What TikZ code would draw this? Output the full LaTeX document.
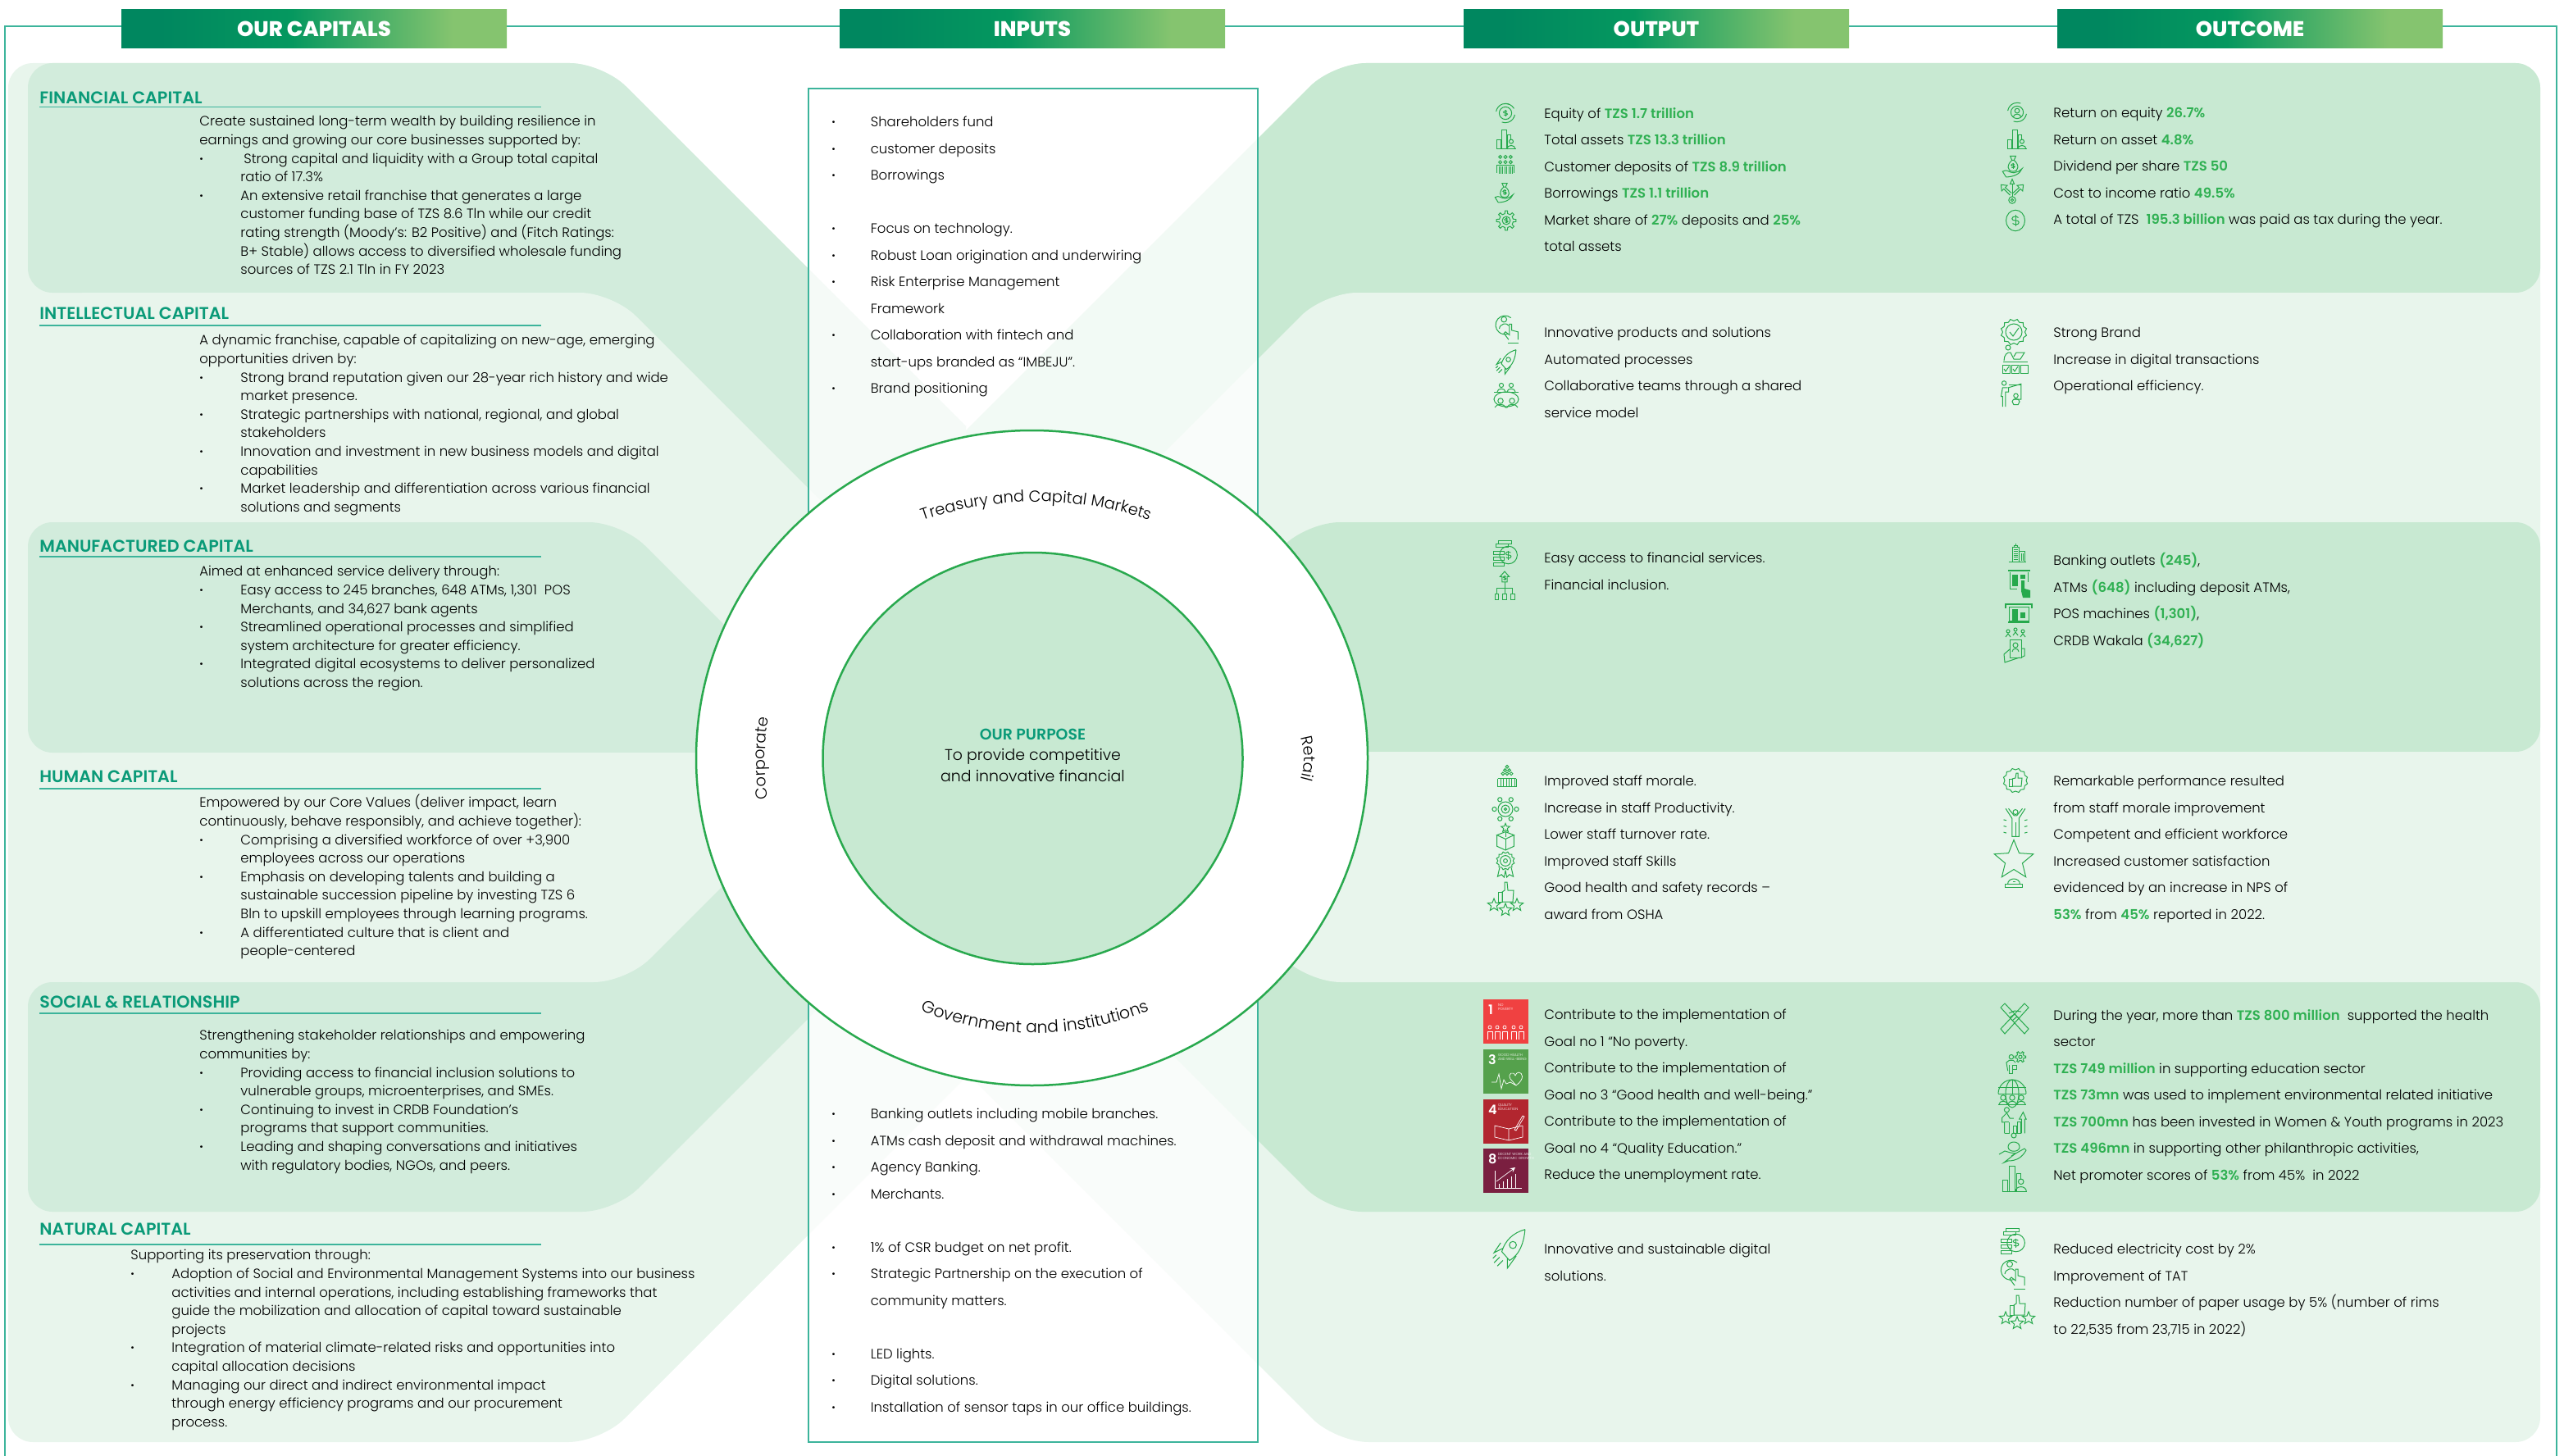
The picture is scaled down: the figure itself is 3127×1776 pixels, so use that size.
\documentclass[tikz,border=0pt]{standalone}
\usepackage{fontspec}
\usetikzlibrary{positioning,shapes.geometric,decorations.text}
\setmainfont{Poppins}[UprightFont=* Light,BoldFont=* SemiBold]
\newfontfamily\heavyfont{Poppins ExtraBold}

\definecolor{frameteal}{HTML}{3CB49B}
\definecolor{titleteal}{HTML}{0A9A78}
\definecolor{bandlight}{HTML}{E8F5EC}
\definecolor{bandleft}{HTML}{D2ECDC}
\definecolor{bandright}{HTML}{C8E9D2}
\definecolor{ringgreen}{HTML}{29A94E}
\definecolor{amtgreen}{HTML}{2FB052}
\definecolor{icongreen}{HTML}{26A94C}
\definecolor{hdA}{HTML}{00875F}
\definecolor{hdB}{HTML}{05985F}
\definecolor{hdC}{HTML}{85C46F}
\pgfdeclarehorizontalshading{capband}{100bp}{color(0bp)=(hdA); color(30bp)=(hdA); color(47bp)=(hdB); color(68bp)=(hdC); color(100bp)=(hdC)}

\newcommand{\amt}[1]{{\bfseries\color{amtgreen}#1}}
\newcommand{\bl}{\makebox[25pt][l]{\bfseries\textperiodcentered}}
\newcommand{\ct}{\hspace*{25pt}}
\newcommand{\ib}{\makebox[23.7pt][l]{\bfseries\textperiodcentered}}
\newcommand{\ic}{\hspace*{23.7pt}}

\tikzset{
  rs/.style={rounded corners=15pt}, rb/.style={rounded corners=20pt}, sc/.style={sharp corners},
  istar/.pic={\draw (-90:5) \foreach \a in {1,...,9} { -- ({-90+\a*36}:{mod(\a,2)==1?2.2:5}) } -- cycle;},
  ismark/.pic={\draw (2.5,-2.5) .. controls (1,-4) and (-3,-4) .. (-3,-1.5) .. controls (-3,1) and (3,-1) .. (3,1.5) .. controls (3,4) and (-1,4) .. (-2.5,2.5);
    \draw (0,-5) -- (0,5);},
  icoin/.pic={\draw (0,0) circle (8); \pic[scale=.8] {ismark};
    \draw (-12,-2) arc[start angle=190,end angle=290,radius=12.5]; \draw (12,2) arc[start angle=10,end angle=110,radius=12.5];
    \draw (-2,-12) arc[start angle=260,end angle=330,radius=12.5];},
  ieqperson/.pic={\draw (0,0) circle (8); \draw (0,-2) circle (3); \draw (-5,6) .. controls (-4,1) and (4,1) .. (5,6);
    \draw (-12,-2) arc[start angle=190,end angle=290,radius=12.5]; \draw (12,2) arc[start angle=10,end angle=110,radius=12.5];},
  ibars/.pic={\draw (-14,14) -- (14,14); \draw (-13,14) -- (-13,1) -- (-8,1) -- (-8,14); \draw (-6,14) -- (-6,-14) -- (0,-14) -- (0,14);
    \draw (2,14) -- (2,-6) -- (7,-6) -- (7,1); \draw (7,3) circle (3); \draw (1,14) .. controls (1,7) and (13,7) .. (13,14);},
  icrowd/.pic={\foreach \p in {-8,0,8} {\draw (\p,-12) circle (2.4); \draw (\p,-4) circle (2.4);}
    \draw (-13,12) -- (-13,1) -- (13,1) -- (13,12); \foreach \p in {-10,-7,-4,-1,2,5,8,11} \draw (\p,3) -- (\p,14);},
  ibag/.pic={\draw (-4,-16) -- (4,-16) -- (1.5,-10) -- (-1.5,-10) -- cycle;
    \draw (-1.5,-10) .. controls (-9,-4) and (-9,6) .. (0,6) .. controls (9,6) and (9,-4) .. (1.5,-10); \pic[scale=.7] at (0,-2) {ismark};
    \draw (-15,6) .. controls (-8,2) and (-6,8) .. (1,8) -- (8,6) -- (13,2) .. controls (10,10) and (0,14) .. (-10,14) -- cycle;},
  igear/.pic={\foreach \a in {0,45,...,315} \draw (\a-11:10.5) -- (\a-7:14.5) -- (\a+7:14.5) -- (\a+11:10.5) -- (\a+34:10.5);
    \draw (0,0) circle (6); \pic[scale=.7] {ismark};},
  iclick/.pic={\draw (5,-14) arc[start angle=-50,end angle=-290,radius=12]; \draw (-4,-12) circle (3.5); \draw (-10,0) .. controls (-9,-7) and (0,-8) .. (2,-4);
    \draw (2,14) -- (-4,6) -- (-2,4) -- (3,8) -- (3,-6) -- (6,-6) -- (6,2) -- (14,4) -- (14,14); \draw (1,18) -- (15,18);},
  irocket/.pic={\draw (14,-18) .. controls (3,-15) and (-4,-8) .. (-7,2) -- (0,10) .. controls (9,5) and (13,-6) .. (14,-18);
    \draw (3,-4) circle (3.2); \draw (-6,-1) -- (-14,3) -- (-8,-6); \draw (-2,8) -- (-2,17) -- (6,6);
    \draw (-9,7) -- (-14,12); \draw (-6,10) -- (-11,15); \draw (-12,5) -- (-15,8);},
  iteam/.pic={\foreach \p in {-6,6} {\draw (\p,-13) circle (2.6); \draw (\p-5,-5) .. controls (\p-5,-10) and (\p+5,-10) .. (\p+5,-5);}
    \draw (-15,-5) -- (15,-5); \draw (0,4) ellipse (15 and 9); \foreach \p in {-7,7} {\draw (\p,6) circle (3.2);}
    \draw (-14,14) .. controls (-12,9) and (-2,9) .. (-1,14) -- (1,14) .. controls (2,9) and (12,9) .. (14,14);},
  ibadge/.pic={\foreach \a in {0,30,...,330} \draw (\a:13.5) -- (\a+15:16) -- (\a+30:13.5);
    \draw (0,0) circle (10); \draw (-5,0) -- (-1,5) -- (6,-5);},
  ilaptop/.pic={\draw (-9,-16) circle (3); \draw (-14,0) .. controls (-14,-7) and (-10,-11) .. (-6,-10) -- (-2,-2) -- (6,-2) -- (11,-10) -- (1,-10) -- (-2,-5); \draw (-15,1) -- (15,1);
    \foreach \p in {-16,-5,6} \draw (\p,5) rectangle ++(9,10); \draw (-14,10) -- (-12,13) -- (-8,7); \draw (-3,10) -- (-1,13) -- (3,7);},
  ipresent/.pic={\draw (-11,-14) circle (3); \draw (-6,-8) -- (-13,-8) -- (-15,4) -- (-13,4) -- (-13,18); \draw (-9,18) -- (-9,-2) -- (-5,-2) -- (-5,-8) -- (12,-13) -- (12,8) -- (2,8);
    \draw (-5,-12) -- (12,-12); \draw (5,3) circle (3); \draw (0,11) .. controls (0,6) and (10,6) .. (10,11) -- (8,15) -- (2,15) -- cycle;},
  ibank/.pic={\draw (-7,-9) rectangle (3,13); \draw (-5,-12) rectangle (1,-9); \draw (-2,-12) -- (-2,-15); \draw (3,-3) rectangle (12,13); \draw (-13,13) -- (14,13);
    \foreach \p in {-6,-3,...,9} \draw (-5,\p) -- (1,\p); \draw (7,0) -- (7,11); \draw (9,0) -- (9,11);},
  iatm/.pic={\draw[line width=1.4pt] (-13,-16) -- (14,-16); \draw (-11,-14) -- (-11,6) -- (-2,6); \draw (11,-14) -- (11,-2); \fill (-8,-11) rectangle (-1,3); \fill (2,-11) rectangle (8,-6);
    \fill (3,-4) -- (7,-4) -- (7,6) -- (14,8) -- (14,17) -- (5,17) -- (3,9) -- cycle;},
  ipos/.pic={\draw[line width=1.2pt] (-16,-6) -- (-16,-11) -- (16,-11) -- (16,-6); \draw (-12,-8) rectangle (12,9); \fill (-8,-5) rectangle (-1,9); \fill (2,-1) rectangle (8,6); \draw[line width=1.2pt] (-13,11) -- (13,11);},
  iwakala/.pic={\foreach \p/\q in {-9/-18,0/-20,9/-18} {\draw (\p,\q) circle (2); \draw (\p-3,\q+7) -- (\p,\q+3) -- (\p+3,\q+7);}
    \draw (-7,-8) rectangle (7,14); \draw (0,-1) circle (3); \draw (-4,7) .. controls (-4,2) and (4,2) .. (4,7); \draw (-7,4) -- (-14,10) -- (-13,20) -- (5,14); \draw (7,3) -- (11,3) -- (11,12) -- (7,14);},
  ipyramid/.pic={\foreach \q/\r in {-15/1,-10/2,-5/3} \foreach \i in {1,...,\r} {\draw ({(\i-(\r+1)/2)*6},\q) circle (2.2);}
    \draw (-13,2) -- (-13,14) -- (13,14) -- (13,2); \draw (-13,2) -- (13,2); \foreach \p in {-9,-5,-1,3,7,11} \draw (\p,2) -- (\p,14);},
  igeartarget/.pic={\draw (0,0) circle (9); \draw (0,0) circle (5); \draw (0,0) circle (1.6);
    \foreach \a in {0,60,...,300} \draw (\a:13.5) circle (2.6);},
  ibox/.pic={\pic[scale=1.1] at (0,-14) {istar}; \draw (0,-9) -- (0,0); \draw (-13,-3) -- (0,3) -- (13,-3) -- (0,-8) -- cycle; \draw (-13,-3) -- (-13,14) -- (0,20) -- (13,14) -- (13,-3); \draw (0,3) -- (0,20);},
  imedal/.pic={\foreach \a in {0,30,...,330} \draw[shift={(0,-5)}] (\a:11.5) -- (\a+15:14) -- (\a+30:11.5); \draw (0,-5) circle (8); \draw (0,-5) circle (3);
    \draw (-9,6) -- (-12,19) -- (-6,16) -- (-2,20) -- (0,10) -- (2,20) -- (6,16) -- (12,19) -- (9,6);},
  ithumbs/.pic={\draw (-4,-8) -- (-1,-10) -- (-1,-20) -- (2,-20) -- (3,-10) -- (10,-10) -- (9,4) -- (-4,4) -- cycle; \draw (-9,-8) rectangle (-4,4);
    \pic[scale=1.6] at (-14,8) {istar}; \pic[scale=1.6] at (0,14) {istar}; \pic[scale=1.6] at (14,8) {istar};},
  ithumbbadge/.pic={\foreach \a in {0,30,...,330} \draw (\a:13) -- (\a+15:15) -- (\a+30:13);
    \draw (-8,-2) rectangle (-4,7); \draw (-4,-2) -- (0,-3) -- (1,-9) -- (3,-9) -- (3,-3) -- (8,-3) -- (7,7) -- (-4,7);},
  ivictory/.pic={\draw (0,-17) circle (3.5); \draw (-14,-22) -- (-5,-8) -- (-5,18) -- (5,18) -- (5,-8) -- (14,-22); \draw (-10,-22) -- (-2,-12) -- (2,-12) -- (10,-22); \draw (0,-2) -- (0,18);
    \foreach \q in {-6,3,12} {\draw (-17,\q) -- (-13,\q+1); \draw (17,\q) -- (13,\q+1);}},
  itrophy/.pic={\pic[scale=5] at (0,-14) {istar}; \draw (-10,25) .. controls (-10,13) and (10,13) .. (10,25); \draw (-14,25) -- (14,25) -- (14,30) -- (-14,30) -- cycle; \draw (-2,20) -- (2,20);},
  ishake/.pic={\draw (-17,-14) -- (-12,-19) -- (17,12) -- (12,18) -- cycle; \draw (17,-14) -- (12,-19) -- (-17,12) -- (-12,18) -- cycle;
    \draw (-7,-7) -- (0,-10) -- (8,-9); \draw (-6,-2) -- (0,-6) -- (6,0); \draw (-3,2) -- (3,-3);},
  ipersongear/.pic={\draw (-6,-8) circle (3.2); \draw (-11,12) -- (-13,0) -- (-9,-3) -- (-3,-3) -- (0,0); \draw (-9,4) -- (-9,16) -- (-4,16) -- (-4,8); \draw (-4,4) rectangle (2,10);
    \foreach \a in {0,60,...,300} \draw[shift={(7,-8)}] (\a-14:5.5) -- (\a-9:8) -- (\a+9:8) -- (\a+14:5.5) -- (\a+46:5.5); \draw (7,-8) circle (2.5);},
  iglobe/.pic={\draw (-17,3) arc[start angle=180,end angle=360,radius=17]; \draw (0,3) ellipse (8 and 17); \draw (0,-14) -- (0,3); \draw (-17,-5) -- (17,-5);
    \draw (-17,3) -- (17,3); \foreach \p in {-11,0,11} {\draw (\p,8) circle (3.2); \draw (\p-5,16) .. controls (\p-5,11) and (\p+5,11) .. (\p+5,16);} \draw (-17,16) -- (17,16);},
  iwoman/.pic={\draw (-8,-15) circle (3.2); \draw (-8,-11) -- (-14,-5) -- (-14,1) -- (-11,1) -- (-11,15); \draw (-8,-11) -- (-4,-4) -- (1,-4); \draw (-5,1) -- (-11,1); \draw (-5,1) -- (-5,15) -- (-11,15);
    \draw (1,15) rectangle (5,6); \draw (6,15) rectangle (10,1); \draw (11,15) -- (11,-3) -- (8,-3) -- (13,-12) -- (17,-3) -- (15,-3) -- (15,15);},
  icare/.pic={\draw (1,-17) circle (3); \draw (-6,-3) .. controls (-6,-11) and (8,-11) .. (8,-3) .. controls (8,4) and (-6,4) .. (-6,-3); \draw (-17,6) -- (-10,2) -- (-3,4) -- (3,5) -- (-2,8);
    \draw (3,5) -- (14,-1) -- (16,1) .. controls (11,10) and (4,14) .. (-6,14) -- (-11,16) -- cycle;},
  icoins/.pic={\draw (-9,-19) rectangle (8,-15); \draw (-13,-15) rectangle (4,-11); \draw (-9,-11) -- (-4,-11); \draw (-16,-5) rectangle (-2,-1); \draw (-16,3) rectangle (-2,7); \draw (-16,11) rectangle (-2,15);
    \draw (4,0) circle (12); \pic[scale=1.1] at (4,0) {ismark};},
  ihouse/.pic={\draw (0,-25) -- (-7,-17) -- (-4,-17) -- (-4,-9) -- (4,-9) -- (4,-17) -- (7,-17) -- cycle; \pic[scale=.6] at (0,-15) {ismark};
    \draw (0,-9) -- (0,9); \draw (-12,0) -- (12,0); \foreach \p in {-12,0,12} {\draw (\p,0) -- (\p,9); \draw (\p-3,9) rectangle (\p+3,18);}},
  iarrows/.pic={\draw (0,13) circle (5); \draw (0,13) circle (2); \draw (0,8) -- (0,-11); \draw (-3,-10) -- (0,-17) -- (3,-10) -- cycle;
    \draw (-3,6) -- (-12,-3) -- (-15,0) -- (-16,-9) -- (-7,-8) -- (-10,-5) -- (-1,3); \draw (3,6) -- (12,-3) -- (15,0) -- (16,-9) -- (7,-8) -- (10,-5) -- (1,3);},
  idollar/.pic={\draw (0,0) ellipse (13.5 and 15); \pic[scale=1.4] {ismark};}
}

\begin{document}
\begin{tikzpicture}[x=0.5pt,y=-0.5pt,
    capheader/.style={shading=capband,minimum width=235pt,minimum height=23.5pt,inner sep=0pt,text=white,font=\heavyfont\fontsize{12.9}{12.9}\selectfont},
    bodytext/.style={anchor=north west,inner sep=0pt,align=left,font=\fontsize{8.25}{11.3}\selectfont,execute at begin node=\strut},
    listtext/.style={anchor=north west,inner sep=0pt,align=left,font=\fontsize{8.25}{16.25}\selectfont,execute at begin node=\strut},
    captitle/.style={anchor=west,inner sep=0pt,text=titleteal,font=\bfseries\fontsize{10.35}{10.35}\selectfont},
    caprule/.style={draw=frameteal,line width=0.8pt},
    ringtext/.style={decorate,decoration={text along path,text align=center,text={#1}}},
    icon/.style={color=icongreen,line width=0.5pt},
    sdgtile/.style={minimum width=27.5pt,minimum height=27pt,inner sep=0pt},
    sdgnum/.style={text=white,inner sep=0pt,font=\bfseries\fontsize{8}{8}\selectfont},
    sdglabel/.style={text=white,inner sep=0pt,anchor=north west,align=left,font=\fontsize{2.2}{2.8}\selectfont}]
  \useasboundingbox (0,0) rectangle (3127,1776);

  % band shapes, left side
  \fill[bandlight] (300,77) [rb] -- (735,77) [sc] -- (1178,520) -- (1178,1314) [rb] -- (733,1759) [rs] -- (10,1759) -- (10,77) [sc] -- cycle;
  \fill[bandleft] (300,77) [rb] -- (735,77) [sc] -- (1178,520) -- (1178,788) -- (700,400) -- (700,357) [rs] -- (34,357) -- (34,77) [sc] -- cycle;
  \fill[bandlight] (300,357) [rb] -- (747,357) [sc] -- (1178,788) -- (1039,918) -- (700,680) -- (700,637) -- (100,637) -- (100,357) -- cycle;
  \fill[bandleft] (300,637) [rb] -- (758,637) [sc] -- (1039,918) [rs] -- (34,918) -- (34,637) [sc] -- cycle;
  \fill[bandleft] (300,1198) -- (700,1198) -- (700,1150) -- (1044,918) -- (1178,1050) [rb] -- (750,1478) [rs] -- (34,1478) -- (34,1198) [sc] -- cycle;
  \fill[bandlight] (300,918) -- (1044,918) [rb] -- (764,1198) [sc] -- (100,1198) -- (100,918) -- cycle;
  % band shapes, right side
  \fill[bandlight] (2500,77) [rs] -- (3098,77) -- (3098,1759) [rb] -- (1629,1759) [sc] -- (1178,1308) -- (1178,525) [rb] -- (1626,77) [sc] -- cycle;
  \fill[bandright] (2500,77) [rs] -- (3098,77) -- (3098,357) [sc] -- (1660,357) -- (1660,400) -- (1178,794) -- (1178,525) [rb] -- (1626,77) [sc] -- cycle;
  \fill[bandlight] (2500,357) -- (3098,357) -- (3098,637) -- (1660,637) -- (1660,680) -- (1314,917) -- (1178,794) [rb] -- (1615,357) [sc] -- cycle;
  \fill[bandright] (2500,637) [rs] -- (3098,637) -- (3098,917) [sc] -- (1314,917) [rb] -- (1594,637) [sc] -- cycle;
  \fill[bandright] (2500,1198) [rs] -- (3098,1198) -- (3098,1478) [rb] -- (1621,1478) [sc] -- (1178,1035) -- (1314,917) -- (1660,1150) -- (1660,1198) -- cycle;
  \fill[bandlight] (2500,917) -- (3098,917) -- (3098,1198) [rb] -- (1595,1198) [sc] -- (1314,917) -- cycle;

  % frame and headers
  \draw[frameteal,line width=1pt] (6,1776) -- (6,32) -- (3118,32) -- (3118,1776);
  \node[capheader] (capitals) at (383,35.5)  {OUR CAPITALS};
  \node[capheader] (inputs)   at (1259,35.5) {INPUTS};
  \node[capheader] (output)   at (2020,35.5) {OUTPUT};
  \node[capheader] (outcome)  at (2744,35.5) {OUTCOME};

  % inputs box
  \node[anchor=north west,minimum width=274pt,minimum height=825.5pt,inner sep=0pt,fill=white,fill opacity=.78,draw=frameteal,draw opacity=1,line width=.9pt] (inputbox) at (985,107) {};

  % left column
  \foreach \nm/\txt/\ty/\ry in {fin/FINANCIAL CAPITAL/119/130.6,int/INTELLECTUAL CAPITAL/382.4/397,man/MANUFACTURED CAPITAL/666/679,
      hum/HUMAN CAPITAL/947/962,soc/SOCIAL \& RELATIONSHIP/1222/1236,nat/NATURAL CAPITAL/1499/1518} {
    \node[captitle] (\nm title) at (48,\ty) {\txt};
    \draw[caprule] (48,\ry) -- (660,\ry);
  }
  \node[bodytext] (finbody) at (243,141) {Create sustained long-term wealth by building resilience in\\
    earnings and growing our core businesses supported by:\\
    \bl\hspace{2pt}Strong capital and liquidity with a Group total capital\\
    \ct ratio of 17.3\%\\
    \bl An extensive retail franchise that generates a large\\
    \ct customer funding base of TZS 8.6 Tln while our credit\\
    \ct rating strength (Moody’s: B2 Positive) and (Fitch Ratings:\\
    \ct B+ Stable) allows access to diversified wholesale funding\\
    \ct sources of TZS 2.1 Tln in FY 2023};
  \node[bodytext] (intbody) at (243,408) {A dynamic franchise, capable of capitalizing on new-age, emerging\\
    opportunities driven by:\\
    \bl Strong brand reputation given our 28-year rich history and wide\\
    \ct market presence.\\
    \bl Strategic partnerships with national, regional, and global\\
    \ct stakeholders\\
    \bl Innovation and investment in new business models and digital\\
    \ct capabilities\\
    \bl Market leadership and differentiation across various financial\\
    \ct solutions and segments};
  \node[bodytext] (manbody) at (243,690) {Aimed at enhanced service delivery through:\\
    \bl Easy access to 245 branches, 648 ATMs, 1,301 \ POS\\
    \ct Merchants, and 34,627 bank agents\\
    \bl Streamlined operational processes and simplified\\
    \ct system architecture for greater efficiency.\\
    \bl Integrated digital ecosystems to deliver personalized\\
    \ct solutions across the region.};
  \node[bodytext] (humbody) at (243,969) {Empowered by our Core Values (deliver impact, learn\\
    continuously, behave responsibly, and achieve together):\\
    \bl Comprising a diversified workforce of over +3,900\\
    \ct employees across our operations\\
    \bl Emphasis on developing talents and building a\\
    \ct sustainable succession pipeline by investing TZS 6\\
    \ct Bln to upskill employees through learning programs.\\
    \bl A differentiated culture that is client and\\
    \ct people-centered};
  \node[bodytext] (socbody) at (243,1256) {Strengthening stakeholder relationships and empowering\\
    communities by:\\
    \bl Providing access to financial inclusion solutions to\\
    \ct vulnerable groups, microenterprises, and SMEs.\\
    \bl Continuing to invest in CRDB Foundation’s\\
    \ct programs that support communities.\\
    \bl Leading and shaping conversations and initiatives\\
    \ct with regulatory bodies, NGOs, and peers.};
  \node[bodytext] (natbody) at (159,1524) {Supporting its preservation through:\\
    \bl Adoption of Social and Environmental Management Systems into our business\\
    \ct activities and internal operations, including establishing frameworks that\\
    \ct guide the mobilization and allocation of capital toward sustainable\\
    \ct projects\\
    \bl Integration of material climate-related risks and opportunities into\\
    \ct capital allocation decisions\\
    \bl Managing our direct and indirect environmental impact\\
    \ct through energy efficiency programs and our procurement\\
    \ct process.};

  % inputs text
  \node[listtext] (inputtop) at (1014,142) {\ib Shareholders fund\\
    \ib customer deposits\\
    \ib Borrowings\\[16.25pt]
    \ib Focus on technology.\\
    \ib Robust Loan origination and underwiring\\
    \ib Risk Enterprise Management\\
    \ic Framework\\
    \ib Collaboration with fintech and\\
    \ic start-ups branded as “IMBEJU”.\\
    \ib Brand positioning};
  \node[listtext] (inputlow) at (1014,1352) {\ib Banking outlets including mobile branches.\\
    \ib ATMs cash deposit and withdrawal machines.\\
    \ib Agency Banking.\\
    \ib Merchants.\\[16.25pt]
    \ib 1\% of CSR budget on net profit.\\
    \ib Strategic Partnership on the execution of\\
    \ic community matters.\\[16.25pt]
    \ib LED lights.\\
    \ib Digital solutions.\\
    \ib Installation of sensor taps in our office buildings.};

  % purpose rings
  \node[ellipse,minimum width=409.5pt,minimum height=399.5pt,inner sep=0pt,fill=white,draw=ringgreen,line width=1.25pt] (ringouter) at (1258.5,924.5) {};
  \node[ellipse,minimum width=256pt,minimum height=251pt,inner sep=0pt,fill=bandright,draw=ringgreen,line width=1.25pt] (ringinner) at (1259.5,925) {};
  \node[align=center,inner sep=0pt,font=\fontsize{9.45}{12.8}\selectfont] (purpose) at (1259.5,921) {{\bfseries\color{titleteal}OUR PURPOSE}\\To provide competitive\\and innovative financial};
  \path[ringtext=|\fontsize{9.7}{9}\selectfont|Treasury and Capital Markets] (894,925) arc[start angle=180,end angle=360,x radius=370,y radius=313];
  \path[ringtext=|\fontsize{10.2}{9}\selectfont|Government and institutions] (912,925) arc[start angle=180,end angle=0,x radius=350,y radius=335];
  \path[ringtext=|\fontsize{9.7}{9}\selectfont|Corporate] (944,1005) arc[start angle=165,end angle=195,x radius=325,y radius=310];
  \path[ringtext=|\fontsize{9.7}{9}\selectfont|Retail] (1579,880) arc[start angle=-15,end angle=15,x radius=328,y radius=174];

  % output and outcome texts
  \node[listtext] (outfin) at (1883,131) {Equity of \amt{TZS 1.7 trillion}\\
    Total assets \amt{TZS 13.3 trillion}\\
    Customer deposits of \amt{TZS 8.9 trillion}\\
    Borrowings \amt{TZS 1.1 trillion}\\
    Market share of \amt{27\%} deposits and \amt{25\%}\\
    total assets};
  \node[listtext] (outcfin) at (2504,131) {Return on equity \amt{26.7\%}\\
    Return on asset \amt{4.8\%}\\
    Dividend per share \amt{TZS 50}\\
    Cost to income ratio \amt{49.5\%}\\
    A total of TZS \ \amt{195.3 billion} was paid as tax during the year.};
  \node[listtext] (outint) at (1883,399) {Innovative products and solutions\\
    Automated processes\\
    Collaborative teams through a shared\\
    service model};
  \node[listtext] (outcint) at (2504,399) {Strong Brand\\
    Increase in digital transactions\\
    Operational efficiency.};
  \node[listtext] (outman) at (1883,674) {Easy access to financial services.\\
    Financial inclusion.};
  \node[listtext] (outcman) at (2504,674) {Banking outlets \amt{(245)},\\
    ATMs \amt{(648)} including deposit ATMs,\\
    POS machines \amt{(1,301)},\\
    CRDB Wakala \amt{(34,627)}};
  \node[listtext] (outhum) at (1883,946) {Improved staff morale.\\
    Increase in staff Productivity.\\
    Lower staff turnover rate.\\
    Improved staff Skills\\
    Good health and safety records –\\
    award from OSHA};
  \node[listtext] (outchum) at (2504,946) {Remarkable performance resulted\\
    from staff morale improvement\\
    Competent and efficient workforce\\
    Increased customer satisfaction\\
    evidenced by an increase in NPS of\\
    \amt{53\%} from \amt{45\%} reported in 2022.};
  \node[listtext] (outsoc) at (1883,1231) {Contribute to the implementation of\\
    Goal no 1 “No poverty.\\
    Contribute to the implementation of\\
    Goal no 3 “Good health and well-being.”\\
    Contribute to the implementation of\\
    Goal no 4 “Quality Education.”\\
    Reduce the unemployment rate.};
  \node[listtext] (outcsoc) at (2504,1231) {During the year, more than \amt{TZS 800 million} \ supported the health\\
    sector\\
    \amt{TZS 749 million} in supporting education sector\\
    \amt{TZS 73mn} was used to implement environmental related initiative\\
    \amt{TZS 700mn} has been invested in Women \& Youth programs in 2023\\
    \amt{TZS 496mn} in supporting other philanthropic activities,\\
    Net promoter scores of \amt{53\%} from 45\% \ in 2022};
  \node[listtext] (outnat) at (1883,1517) {Innovative and sustainable digital\\
    solutions.};
  \node[listtext] (outcnat) at (2504,1517) {Reduced electricity cost by 2\%\\
    Improvement of TAT\\
    Reduction number of paper usage by 5\% (number of rims\\
    to 22,535 from 23,715 in 2022)};

  % icons
  \foreach \ico/\px/\py/\sc in {icoin/1836/138/.95,ibars/1837/170/.85,icrowd/1836/201/.8,ibag/1835/236/.78,igear/1837/269/.82,
      ieqperson/2460/137/.95,ibars/2460/170/.85,ibag/2455/204/.85,iarrows/2454/233/.85,idollar/2458/269/.85,
      iclick/1838/401/.95,irocket/1837/442/.85,iteam/1837/483/1,ibadge/2456/405/1,ilaptop/2458/440/1,ipresent/2454/480/.9,
      icoins/1836/677/.9,ihouse/1835/717/.8,ibank/2460/675/.8,iatm/2462/712/1,ipos/2462/748/1,iwakala/2458/788/1,
      ipyramid/1838/948/.85,igeartarget/1836/987/1,ibox/1836/1021/.8,imedal/1836/1054/.8,ithumbs/1836/1096/1,
      ithumbbadge/2458/952/1,ivictory/2458/1005/.85,itrophy/2456/1060/.75,
      ishake/2457/1243/1,ipersongear/2458/1296/.85,iglobe/2454/1331/1,iwoman/2455/1368/.95,icare/2455/1402/1,ibars/2457/1438/1.1,
      irocket/1841/1524/1.35,icoins/2455/1516/.9,iclick/2455/1554/1,ithumbs/2460/1600/1} {
    \pic[icon,scale=\sc] at (\px,\py) {\ico};
  }

  % SDG tiles
  \node[sdgtile,fill={rgb,255:red,240;green,65;blue,65}]  (sdgone)   at (1836.5,1246) {};
  \node[sdgtile,fill={rgb,255:red,85;green,161;blue,76}]  (sdgthree) at (1836.5,1307) {};
  \node[sdgtile,fill={rgb,255:red,178;green,38;blue,47}]  (sdgfour)  at (1836.5,1368) {};
  \node[sdgtile,fill={rgb,255:red,122;green,31;blue,64}]  (sdgeight) at (1836.5,1428) {};
  \foreach \tile/\num/\lab in {sdgone/1/{NO\\POVERTY},sdgthree/3/{GOOD HEALTH\\AND WELL-BEING},sdgfour/4/{QUALITY\\EDUCATION},sdgeight/8/{DECENT WORK AND\\ECONOMIC GROWTH}} {
    \node[sdgnum,anchor=west] (\tile num) at ([xshift=3pt,yshift=-6.5pt]\tile.north west) {\num};
    \node[sdglabel] (\tile lab) at ([xshift=9pt,yshift=-2.5pt]\tile.north west) {\lab};
  }
  \begin{scope}[draw=white,line width=0.35pt]
    \foreach \p in {1817,1826,1835,1846,1855} {\draw (\p,1253) circle (2); \draw (\p-3,1268) -- (\p-3,1258) -- (\p+3,1258) -- (\p+3,1268);}
    \draw (1819,1320) -- (1825,1320) -- (1828,1310) -- (1831,1328) -- (1834,1317) -- (1837,1322) -- (1842,1320);
    \draw (1842,1320) -- (1849,1324) .. controls (1860,1316) and (1857,1308) .. (1852,1308) .. controls (1850,1308) and (1849,1310) .. (1848,1312) .. controls (1846,1306) and (1838,1309) .. (1842,1316) -- (1849,1324);
    \draw (1823,1373) -- (1840,1377) -- (1840,1391) -- (1823,1387) -- cycle; \draw (1857,1373) -- (1840,1377); \draw (1857,1373) -- (1857,1387) -- (1840,1391);
    \draw (1847,1378) -- (1857,1361) -- (1859,1362) -- (1849,1379) -- cycle;
    \draw (1823,1449) -- (1856,1449); \draw (1823,1449) -- (1823,1428); \foreach \p in {1828,1833,1838,1843,1848} \draw (\p,1449) -- (\p,{1444-(\p-1828)/1.7});
    \draw[->,>=stealth] (1825,1441) -- (1848,1424);
  \end{scope}
\end{tikzpicture}
\end{document}
